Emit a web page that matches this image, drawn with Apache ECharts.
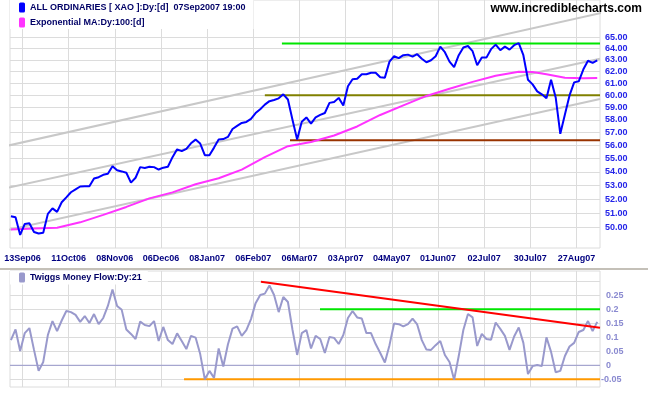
<!DOCTYPE html>
<html><head><meta charset="utf-8">
<script src="https://cdn.jsdelivr.net/npm/echarts@6/dist/echarts.min.js"></script>
<style>html,body{margin:0;padding:0;background:#fff}#c{width:651px;height:395px}</style>
</head><body><div id="c"></div>
<script>
// ---- data ----
const tickDays = [5,25,45,65,85,105,125,145,165,185,205,225,245];
const tickLabels = ['13Sep06','11Oct06','08Nov06','06Dec06','08Jan07','06Feb07','06Mar07','03Apr07','04May07','01Jun07','02Jul07','30Jul07','27Aug07'];
const priceTicks = [50,51,52,53,54,55,56,57,58,59,60,61,62,63,64,65];
const mfLabelTicks = [-0.05,0,0.05,0.1,0.15,0.2,0.25];
const mfGridTicks = [-0.05,0,0.05,0.1,0.15,0.2,0.25,0.3];
const priceName = 'ALL ORDINARIES [ XAO ]:Dy:[d]  07Sep2007 19:00';
const emaName = 'Exponential MA:Dy:100:[d]';
const mfName = 'Twiggs Money Flow:Dy:21';
const priceStep = 2;
const priceValues = [50.8,50.72,49.5,50.26,50.3,49.7,49.6,49.65,50.96,51.35,51.1,51.78,52.13,52.5,52.71,52.92,52.93,52.93,53.5,53.6,53.78,53.86,54.42,54.12,54.03,53.93,53.2,53.56,54.35,54.29,54.38,54.35,54.17,54.31,54.38,55.1,55.7,55.56,55.74,56.16,56.45,56.14,55.25,55.25,55.83,56.45,56.49,56.66,57.28,57.53,57.76,57.84,58.09,58.55,58.86,59.24,59.52,59.62,59.75,60.08,59.66,58.0,56.45,57.86,58.2,57.7,58.2,58.4,58.56,59.38,59.45,59.79,59.17,60.75,61.34,61.38,61.77,61.77,61.9,61.9,61.51,61.48,62.85,63.32,63.15,63.41,63.46,63.28,63.5,63.1,62.8,62.97,63.32,64.16,63.67,62.85,62.37,63.41,64.09,64.22,63.76,62.54,63.21,63.2,63.94,64.34,63.85,64.16,63.9,64.29,64.47,63.41,61.3,60.91,60.33,60.08,59.75,61.3,59.83,56.9,58.44,59.99,61.08,61.17,62.19,62.93,62.75,62.97];
const emaDays = [0,10,20,30,40,50,60,70,80,90,100,110,120,130,140,150,160,170,180,190,200,210,220,226,232,240,248,254];
const emaValues = [49.87,49.95,49.99,50.37,50.89,51.45,52.06,52.49,53.08,53.52,54.16,55.10,55.94,56.26,56.77,57.48,58.40,59.17,59.95,60.55,61.12,61.64,61.98,61.96,61.77,61.47,61.43,61.45];
const mfStep = 2;
const mfValues = [0.09,0.128,0.051,0.115,0.133,0.055,-0.02,0.012,0.108,0.158,0.122,0.16,0.194,0.19,0.18,0.155,0.176,0.151,0.183,0.147,0.169,0.212,0.271,0.212,0.198,0.128,0.112,0.094,0.156,0.144,0.14,0.158,0.087,0.137,0.09,0.076,0.114,0.087,0.058,0.105,0.099,0.04,-0.05,-0.02,-0.045,0.06,-0.004,0.074,0.131,0.139,0.105,0.126,0.165,0.222,0.251,0.256,0.285,0.251,0.19,0.244,0.226,0.126,0.037,0.115,0.126,0.06,0.105,0.094,0.044,0.101,0.098,0.076,0.108,0.169,0.194,0.171,0.167,0.115,0.115,0.076,0.044,0.01,0.072,0.149,0.147,0.139,0.147,0.167,0.146,0.09,0.056,0.055,0.072,0.087,0.037,0.012,-0.052,0.033,0.126,0.183,0.171,0.069,0.112,0.094,0.091,0.153,0.13,0.105,0.055,0.103,0.135,0.08,-0.031,-0.003,0.001,-0.003,0.1,0.048,-0.025,-0.02,0.033,0.067,0.08,0.119,0.126,0.158,0.122,0.155];
// annotation lines (day index, value)
const channelUpper = [[-4.7,55.85],[276.9,68.23]];
const channelMiddle = [[-4.7,52.70],[255.2,63.10]];
const channelLower = [[-4.7,49.72],[255.2,59.69]];
const resistanceHigh = [[117.4,64.45],[255.2,64.45]];
const supportMid = [[110,60.0],[255.2,60.0]];
const supportLow = [[120.9,56.4],[255.2,56.4]];
const mfTrend = [[108.3,0.2986],[255.2,0.1343]];
const mfHigh = [[133.9,0.2],[255.2,0.2]];
const mfLow = [[75,-0.05],[255.2,-0.05]];
const mfZero = [[-0.4,0],[255.2,0]];
const dayMin = -0.4, dayMax = 255.2;
const priceMin = 48.62, priceMax = 68.42;
const mfMin = -0.0775, mfMax = 0.3368;

// ---- chart ----
const FONT = '"Liberation Sans", Arial, sans-serif';
const gridColor = '#dcdcdc';
const L = Math.log;
const lnPairs = arr => arr.map(p => [p[0], L(p[1])]);
function lineSeries(name, data, color, width, xi, yi, z, clip) {
  return {name, type:'line', xAxisIndex:xi, yAxisIndex:yi, data, symbol:'none', silent:true,
    clip: clip !== false, z, lineStyle:{color, width}, itemStyle:{color}, animation:false};
}
const xLabelFmt = v => { const i = tickDays.indexOf(Math.round(v)); return i >= 0 ? tickLabels[i] : ''; };
const mfLabelFmt = v => { const s = String(+v.toFixed(2)); return v < 0 ? s : '  ' + s; };

const chart = echarts.init(document.getElementById('c'), null, {renderer:'canvas'});
chart.setOption({
  animation:false,
  backgroundColor:'#fff',
  textStyle:{fontFamily:FONT},
  grid:[
    {left:10, right:51, top:0, height:248, show:true, borderColor:gridColor, borderWidth:1},
    {left:10, right:51, top:271, height:116, show:true, borderColor:gridColor, borderWidth:1}
  ],
  legend:[
    {left:10, top:0, orient:'vertical', padding:[2.5,8,1.5,9], itemWidth:6, itemHeight:10, itemGap:5,
     backgroundColor:'#fff', selectedMode:false, icon:'roundRect',
     textStyle:{fontSize:9, fontWeight:'bold', color:'#000066', fontFamily:FONT},
     data:[priceName, emaName]},
    {left:10, top:271, orient:'vertical', padding:[1.5,6,2,9], itemWidth:6, itemHeight:10,
     backgroundColor:'#fff', selectedMode:false, icon:'roundRect',
     textStyle:{fontSize:9, fontWeight:'bold', color:'#000066', fontFamily:FONT},
     data:[mfName]}
  ],
  xAxis:[
    {type:'value', gridIndex:0, min:dayMin, max:dayMax,
     axisLine:{show:false}, axisTick:{show:false, customValues:tickDays},
     splitLine:{show:true, lineStyle:{color:gridColor}},
     axisLabel:{customValues:tickDays, formatter:xLabelFmt, fontSize:9, fontWeight:'bold', color:'#000080', margin:6, fontFamily:FONT}},
    {type:'value', gridIndex:1, min:dayMin, max:dayMax,
     axisLine:{show:false}, axisTick:{show:true, customValues:tickDays, length:5, lineStyle:{color:gridColor}},
     splitLine:{show:true, lineStyle:{color:gridColor}},
     axisLabel:{show:false}}
  ],
  yAxis:[
    {type:'value', gridIndex:0, position:'right', min:L(priceMin), max:L(priceMax),
     axisLine:{show:false}, axisTick:{show:false, customValues:priceTicks.map(L)},
     splitLine:{show:true, lineStyle:{color:gridColor}},
     axisLabel:{customValues:priceTicks.map(L), formatter:v => Math.exp(v).toFixed(2), fontSize:9, fontWeight:'bold', color:'#2424E8', margin:5, fontFamily:FONT}},
    {type:'value', gridIndex:1, position:'right', min:mfMin, max:mfMax,
     axisLine:{show:false}, axisTick:{show:false, customValues:mfGridTicks},
     splitLine:{show:true, lineStyle:{color:gridColor}},
     axisLabel:{customValues:mfLabelTicks, formatter:mfLabelFmt, fontSize:9, fontWeight:'bold', color:'#8A8AD0', margin:1, fontFamily:FONT}}
  ],
  series:[
    lineSeries('chU', lnPairs(channelUpper), '#C8C8C8', 2, 0, 0, 2, false),
    lineSeries('chM', lnPairs(channelMiddle), '#C8C8C8', 2, 0, 0, 2, false),
    lineSeries('chL', lnPairs(channelLower), '#C8C8C8', 2, 0, 0, 2, false),
    lineSeries('resH', lnPairs(resistanceHigh), '#00E600', 2, 0, 0, 3),
    lineSeries('supM', lnPairs(supportMid), '#808000', 2, 0, 0, 3),
    lineSeries('supL', lnPairs(supportLow), '#993300', 2, 0, 0, 3),
    lineSeries(emaName, emaDays.map((d,i) => [d, L(emaValues[i])]), '#FF33FF', 2, 0, 0, 4),
    lineSeries(priceName, priceValues.map((v,i) => [i*priceStep, L(v)]), '#0000FF', 2, 0, 0, 5),
    lineSeries('mfZero', mfZero, '#9999CC', 1, 1, 1, 2),
    lineSeries('mfLow', mfLow, '#FF9900', 2, 1, 1, 3),
    lineSeries('mfHigh', mfHigh, '#00E600', 2, 1, 1, 3),
    lineSeries(mfName, mfValues.map((v,i) => [i*mfStep, v]), '#9999CC', 2, 1, 1, 4),
    lineSeries('mfTrend', mfTrend, '#FF0000', 2, 1, 1, 5)
  ],
  graphic:[
    {type:'rect', left:0, top:268, shape:{width:648, height:2}, style:{fill:'#C4C0B8'}, z:10, silent:true},
    {type:'text', right:9, top:3, style:{text:'www.incrediblecharts.com', font:'bold 12px ' + FONT, fill:'#000'}, z:10, silent:true}
  ]
});
</script></body></html>
